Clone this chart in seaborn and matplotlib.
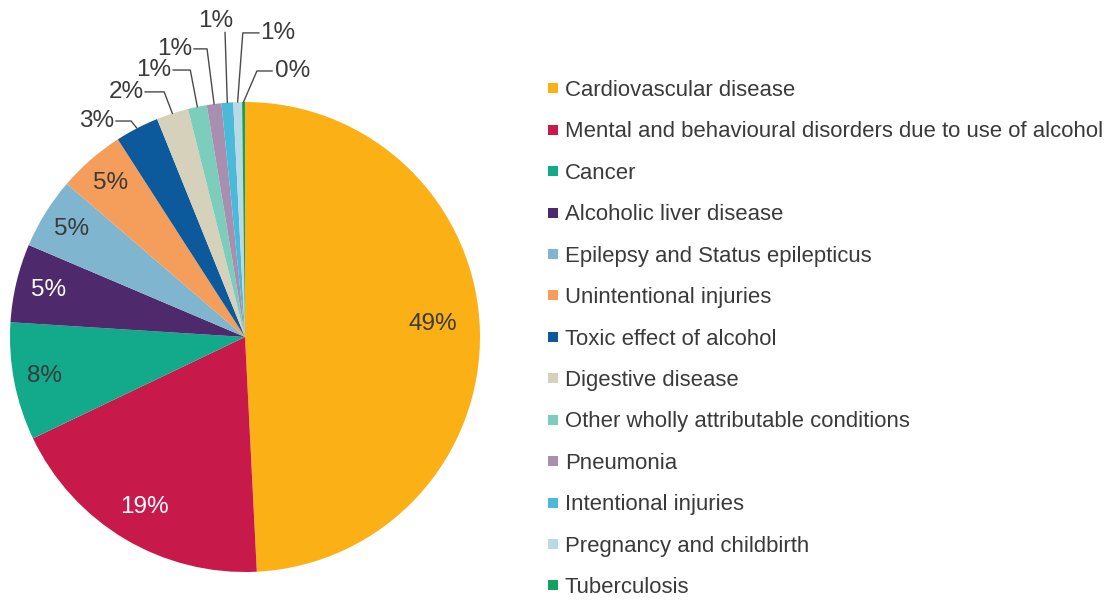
import matplotlib
matplotlib.use('Agg')
import matplotlib.pyplot as plt
from matplotlib.lines import Line2D
import numpy as np
import seaborn as sns

# data (share of deaths, %)
causes = ['Cardiovascular disease',
          'Mental and behavioural disorders due to use of alcohol',
          'Cancer',
          'Alcoholic liver disease',
          'Epilepsy and Status epilepticus',
          'Unintentional injuries',
          'Toxic effect of alcohol',
          'Digestive disease',
          'Other wholly attributable conditions',
          'Pneumonia',
          'Intentional injuries',
          'Pregnancy and childbirth',
          'Tuberculosis']
share = [49.2, 18.7, 8.1, 5.4, 4.9, 4.6, 3.0, 2.2, 1.3, 1.0, 0.8, 0.6, 0.2]
pct_labels = ['49%', '19%', '8%', '5%', '5%', '5%', '3%', '2%', '1%', '1%', '1%', '1%', '0%']

colours = ['#FBB116', '#C8194B', '#13A98B', '#4E2A6C', '#80B5CF', '#F59D5A',
           '#0C5A9C', '#D5D1BB', '#7CCDBC', '#A88FB0', '#4BB9D8', '#B8D9E6', '#12A160']

sns.set_theme(style='white')
plt.rcParams['font.family'] = ['Liberation Sans', 'DejaVu Sans']
txt_col = '#3a3a3a'
pct_size = 17.5

fig = plt.figure(figsize=(11.06, 6.01), dpi=100)
# pie box in pixels: x 10..480, y 102..572
ax = fig.add_axes([10 / 1106, 29 / 601, 470 / 1106, 470 / 601])

wedges, _ = ax.pie(share, colors=sns.color_palette(colours), startangle=90,
                   counterclock=False, radius=1,
                   wedgeprops=dict(linewidth=0))
ax.set_xlim(-1, 1)
ax.set_ylim(-1, 1)
ax.set_aspect('equal')
ax.axis('off')

# inside labels: (radius, angle nudge in degrees, text colour)
inside = {0: (0.80, 2.5, txt_col), 1: (0.84, 0, 'white'), 2: (0.87, 0, txt_col),
          3: (0.86, 0, 'white'), 4: (0.87, 0, txt_col), 5: (0.87, 0, txt_col)}
for i, (r, nudge, c) in inside.items():
    w = wedges[i]
    mid = np.deg2rad((w.theta1 + w.theta2) / 2 + nudge)
    ax.text(r * np.cos(mid), r * np.sin(mid), pct_labels[i], color=c,
            fontsize=pct_size, ha='center', va='center')

# outside labels: text position, line start offset, elbow offset
outside = {6: ((-0.630, 0.919), (0.080, 0), -0.025),
           7: ((-0.506, 1.043), (0.080, 0), -0.035),
           8: ((-0.387, 1.136), (0.080, 0), -0.030),
           9: ((-0.298, 1.226), (0.080, 0), -0.030),
           10: ((-0.123, 1.345), (0.038, -0.048), None),
           11: ((0.140, 1.294), (-0.080, 0), 0.022),
           12: ((0.204, 1.132), (-0.088, 0), 0.057)}
for i, ((tx, ty), (sx, sy), elb) in outside.items():
    w = wedges[i]
    mid = np.deg2rad((w.theta1 + w.theta2) / 2)
    ex, ey = np.cos(mid), np.sin(mid)
    ax.text(tx, ty, pct_labels[i], color=txt_col, fontsize=pct_size,
            ha='center', va='center', clip_on=False)
    xs = [tx + sx]
    ys = [ty + sy]
    if elb is not None:
        xs.append(ex + elb)
        ys.append(ty + sy)
    xs.append(ex)
    ys.append(ey)
    ax.plot(xs, ys, color='#4a4a4a', lw=1, clip_on=False)

handles = [Line2D([], [], marker='s', linestyle='', markersize=7.5,
                  markerfacecolor=c, markeredgewidth=0) for c in colours]
fig.legend(handles, causes, loc='upper left', bbox_to_anchor=(545 / 1106, 1 - 80 / 601),
           frameon=False, fontsize=15.9, labelspacing=0.925, handlelength=0.7,
           handletextpad=0.2, borderpad=0, borderaxespad=0, labelcolor=txt_col)

fig.savefig('out.png', dpi=100)
